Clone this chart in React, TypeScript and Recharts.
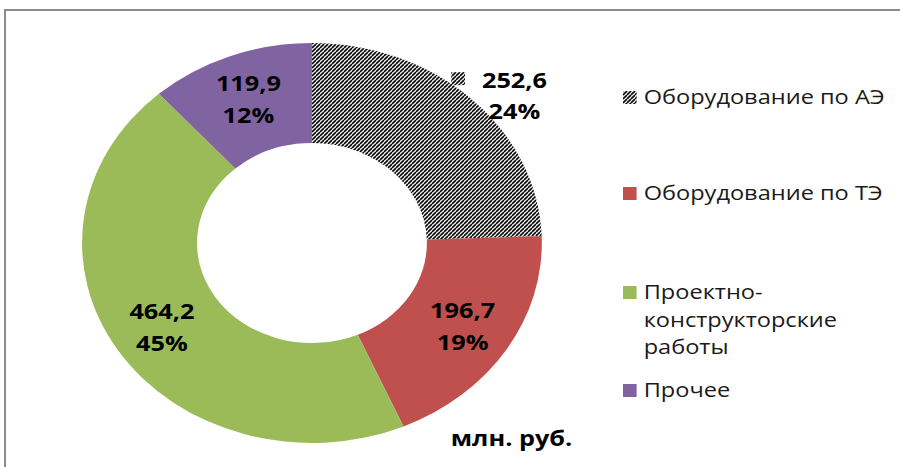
import React from 'react';
import { PieChart, Pie, Cell, Legend } from 'recharts';

const categories = [
  'Оборудование по АЭ',
  'Оборудование по ТЭ',
  'Проектно-конструкторские работы',
  'Прочее',
];
const values = [252.6, 196.7, 464.2, 119.9];
const colors = ['url(#hatch)', '#C0504D', '#9BBB59', '#8064A2'];
const unitLabel = 'млн. руб.';

const data = categories.map((name, i) => ({ name, value: values[i] }));

const SCALE_X = 1.1494;
const W = 783;
const H = 467;
const RADIAN = Math.PI / 180;
const FONT = '"Open Sans", "DejaVu Sans", sans-serif';

const fmt = (v: number) => v.toFixed(1).replace('.', ',');

const renderLabel = (props: any) => {
  const { cx, cy, midAngle, innerRadius, outerRadius, index, value, percent } = props;
  let r = (innerRadius + outerRadius) / 2 + 5;
  let ang = midAngle;
  if (index === 0) {
    r = outerRadius * 1.15;
    ang = midAngle - 6;
  }
  const x = cx + r * Math.cos(-ang * RADIAN);
  const y = cy + r * Math.sin(-ang * RADIAN);
  const pct = Math.round(percent * 100) + '%';
  return (
    <g key={'lbl' + index}>
      {index === 0 && (
        <rect x={x - 55} y={y - 23} width={12} height={13} fill="url(#hatch)" />
      )}
      <text
        x={x}
        y={y - 16}
        textAnchor="middle"
        dominantBaseline="central"
        fontFamily={FONT}
        fontWeight={700}
        fontSize={22}
        fill="#000"
      >
        {fmt(value)}
      </text>
      <text
        x={x}
        y={y + 16}
        textAnchor="middle"
        dominantBaseline="central"
        fontFamily={FONT}
        fontWeight={700}
        fontSize={22}
        fill="#000"
      >
        {pct}
      </text>
    </g>
  );
};

const legendTops = [83, 179, 278, 376];

const renderLegend = () => (
  <div style={{ position: 'relative', width: 240, height: 360 }}>
    {categories.map((name, i) => (
      <div
        key={name}
        style={{
          position: 'absolute',
          left: 0,
          top: legendTops[i],
          display: 'flex',
          alignItems: 'flex-start',
        }}
      >
        <svg width={12} height={13} style={{ marginTop: 8, flex: 'none' }}>
          <rect x={0} y={0} width={12} height={13} fill={colors[i]} />
        </svg>
        <div
          style={{
            marginLeft: 6,
            width: 215,
            fontFamily: FONT,
            fontSize: 20.5,
            lineHeight: '27.5px',
            color: '#1a1a1a',
            textAlign: 'left',
            whiteSpace: 'normal',
          }}
        >
          {name}
        </div>
      </div>
    ))}
  </div>
);

export default function App() {
  return (
    <div
      style={{
        position: 'absolute',
        left: 0,
        top: 0,
        width: 900,
        height: 467,
        overflow: 'hidden',
        background: '#fff',
      }}
    >
      <div
        style={{
          position: 'absolute',
          left: 4,
          top: 9,
          width: 1000,
          height: 1000,
          border: '2px solid #8c8c8c',
          boxSizing: 'border-box',
        }}
      />
      <div
        style={{
          position: 'absolute',
          left: 0,
          top: 0,
          width: W,
          height: H,
          transform: `scaleX(${SCALE_X})`,
          transformOrigin: '0 0',
        }}
      >
        <PieChart width={W} height={H} margin={{ top: 0, right: 0, bottom: 0, left: 0 }}>
          <defs>
            <pattern
              id="hatch"
              patternUnits="userSpaceOnUse"
              width={4}
              height={4}
              patternTransform={`scale(${1 / SCALE_X},1)`}
            >
              <rect x={0} y={0} width={4} height={4} fill="#fff" />
              <path
                d="M-4,4 L0,0 M0,4 L4,0 M4,4 L8,0"
                stroke="#000"
                strokeWidth={1.6}
              />
            </pattern>
          </defs>
          <Pie
            data={data}
            dataKey="value"
            nameKey="name"
            cx={271.4}
            cy={243}
            innerRadius={100}
            outerRadius={200}
            startAngle={90}
            endAngle={-270}
            stroke="none"
            label={renderLabel}
            labelLine={false}
            isAnimationActive={false}
          >
            {data.map((d, i) => (
              <Cell key={d.name} fill={colors[i]} />
            ))}
          </Pie>
          <Legend
            content={renderLegend}
            wrapperStyle={{ position: 'absolute', left: 542, top: 0, width: 240 }}
          />
        </PieChart>
        <div
          style={{
            position: 'absolute',
            left: 445,
            top: 437,
            transform: 'translate(-50%, -50%)',
            fontFamily: FONT,
            fontWeight: 700,
            fontSize: 22,
            color: '#000',
            whiteSpace: 'nowrap',
          }}
        >
          {unitLabel}
        </div>
      </div>
    </div>
  );
}
